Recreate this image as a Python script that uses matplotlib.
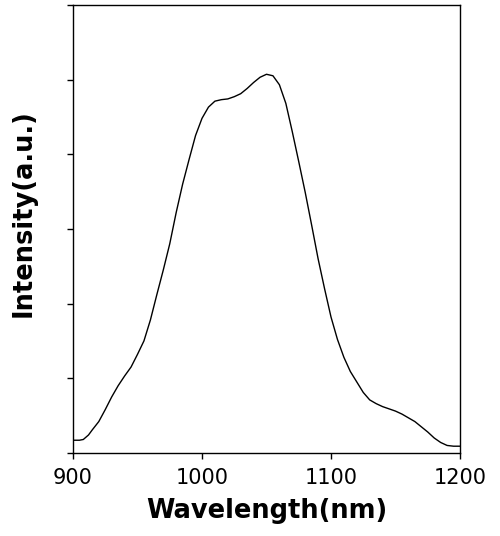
import matplotlib
matplotlib.use("Agg")
import matplotlib.pyplot as plt

wavelength = [900, 905, 908, 912, 915, 920, 925, 930, 935, 940, 945, 950, 955, 960,
              965, 970, 975, 980, 985, 990, 995, 1000, 1005, 1010, 1015, 1020, 1025,
              1030, 1035, 1040, 1045, 1050, 1055, 1060, 1065, 1070, 1075, 1080, 1085,
              1090, 1095, 1100, 1105, 1110, 1115, 1120, 1125, 1130, 1135, 1140, 1145,
              1150, 1155, 1160, 1165, 1170, 1175, 1180, 1185, 1190, 1195, 1200]
intensity = [0.17, 0.17, 0.18, 0.24, 0.31, 0.42, 0.58, 0.75, 0.90, 1.03, 1.15, 1.32,
             1.50, 1.78, 2.12, 2.45, 2.80, 3.22, 3.60, 3.93, 4.25, 4.48, 4.63, 4.71,
             4.73, 4.74, 4.77, 4.81, 4.88, 4.96, 5.03, 5.07, 5.05, 4.93, 4.68, 4.30,
             3.90, 3.49, 3.05, 2.60, 2.20, 1.82, 1.52, 1.28, 1.09, 0.95, 0.81, 0.71,
             0.66, 0.62, 0.59, 0.56, 0.52, 0.47, 0.42, 0.35, 0.28, 0.20, 0.14, 0.10,
             0.09, 0.09]
x_ticks = [900, 1000, 1100, 1200]
y_ticks = [0, 1, 2, 3, 4, 5, 6]

plt.rcParams['font.family'] = ['DejaVu Sans']

fig = plt.figure(figsize=(5.0, 5.36), dpi=100)
ax = fig.add_axes([0.146, 0.155, 0.774, 0.836])
ax.plot(wavelength, intensity, color='black', lw=1.0)
ax.set_xlim(900, 1200)
ax.set_ylim(0, 6)
ax.set_xticks(x_ticks)
ax.set_xticklabels([str(t) for t in x_ticks], fontsize=15)
ax.set_yticks(y_ticks)
ax.set_yticklabels([])
ax.tick_params(axis='both', direction='out', length=4.5, width=1.0, color='black')
ax.tick_params(axis='x', pad=6)
for s in ax.spines.values():
    s.set_linewidth(1.0)
ax.set_xlabel('Wavelength(nm)', fontsize=18.5, fontweight='bold')
ax.set_ylabel('Intensity(a.u.)', fontsize=18.5, fontweight='bold')
ax.yaxis.set_label_coords(-0.095, 0.535)
ax.xaxis.set_label_coords(0.502, -0.10)

fig.savefig('out.png', dpi=100)
